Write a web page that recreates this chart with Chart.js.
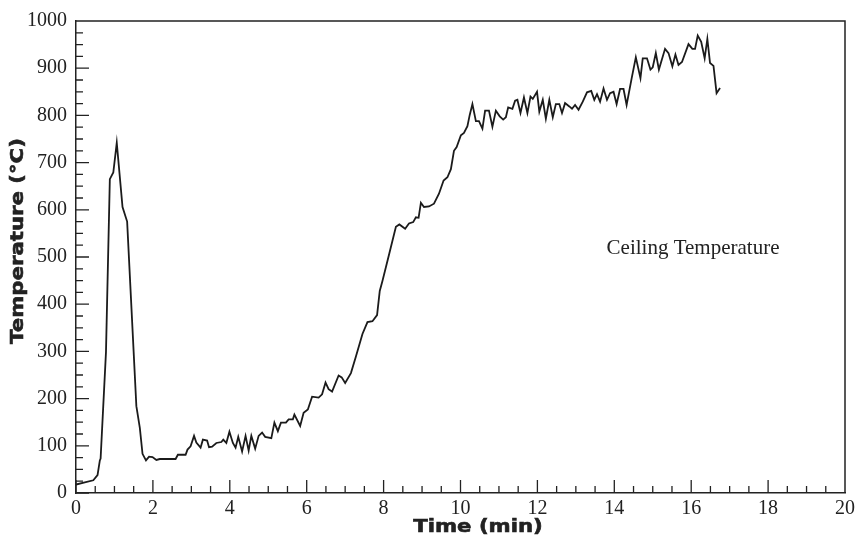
<!DOCTYPE html>
<html lang="en">
<head>
    <meta charset="UTF-8">
    <title>Ceiling Temperature</title>
    <script src="https://cdn.jsdelivr.net/npm/chart.js"></script>
    <style>
        html, body { margin: 0; padding: 0; background: #fff; }
        #wrap { width: 859px; height: 551px; }
    </style>
</head>
<body>
    <div id="wrap"><canvas id="chart" width="859" height="551"></canvas></div>
    <script>
        // time in minutes, temperature in deg C
        const times = [
            0.00, 0.45, 0.56, 0.62, 0.64, 0.78, 0.88, 0.97, 1.06, 1.21, 1.33, 1.57, 1.66, 1.73, 1.82, 1.90, 1.99,
            2.09, 2.18, 2.59, 2.65, 2.85, 2.90, 2.98, 3.07, 3.13, 3.24, 3.30, 3.41, 3.46, 3.54, 3.65, 3.78, 3.83,
            3.91, 3.99, 4.08, 4.15, 4.22, 4.32, 4.41, 4.49, 4.56, 4.66, 4.75, 4.84, 4.92, 5.08, 5.16, 5.25, 5.33,
            5.46, 5.53, 5.64, 5.68, 5.83, 5.92, 6.03, 6.14, 6.31, 6.40, 6.49, 6.57, 6.66, 6.83, 6.91, 7.00, 7.15,
            7.28, 7.45, 7.58, 7.71, 7.83, 7.90, 7.97, 8.15, 8.32, 8.41, 8.56, 8.66, 8.77, 8.84, 8.91, 8.97, 9.05,
            9.18, 9.31, 9.44, 9.56, 9.66, 9.75, 9.83, 9.90, 10.01, 10.09, 10.18, 10.24, 10.31, 10.40, 10.48, 10.57,
            10.64, 10.74, 10.83, 10.92, 11.02, 11.11, 11.18, 11.24, 11.35, 11.42, 11.48, 11.56, 11.65, 11.74, 11.82,
            11.88, 11.99, 12.05, 12.14, 12.22, 12.31, 12.40, 12.48, 12.57, 12.64, 12.72, 12.83, 12.90, 12.98, 13.07,
            13.18, 13.29, 13.40, 13.48, 13.55, 13.63, 13.72, 13.81, 13.89, 13.98, 14.06, 14.15, 14.24, 14.32, 14.45,
            14.56, 14.68, 14.74, 14.85, 14.94, 15.00, 15.08, 15.16, 15.32, 15.41, 15.51, 15.59, 15.67, 15.76, 15.93,
            16.03, 16.10, 16.17, 16.26, 16.35, 16.42, 16.49, 16.58, 16.66, 16.75
        ];
        const temps = [
            18, 27, 38, 69, 73, 299, 665, 679, 742, 606, 575, 184, 138, 83, 69, 77, 76,
            70, 72, 72, 81, 81, 92, 99, 121, 107, 96, 113, 111, 97, 98, 106, 108, 113,
            106, 130, 106, 96, 119, 88, 121, 90, 121, 94, 121, 128, 119, 116, 149, 131, 149,
            149, 156, 156, 166, 142, 170, 177, 204, 202, 209, 234, 220, 215, 249, 245, 233, 254,
            289, 337, 362, 364, 377, 428, 449, 508, 564, 569, 560, 571, 574, 584, 583, 615, 606,
            607, 613, 634, 662, 669, 686, 725, 733, 758, 763, 777, 801, 824, 788, 788, 772,
            810, 810, 776, 810, 798, 791, 796, 817, 814, 831, 833, 805, 838, 805, 840,
            835, 850, 808, 833, 793, 833, 796, 824, 824, 805, 826, 819, 814, 822, 812,
            829, 849, 852, 833, 845, 829, 857, 833, 847, 850, 824, 856, 856, 822, 878,
            923, 879, 921, 921, 897, 902, 932, 897, 941, 932, 904, 929, 907, 913, 951,
            941, 941, 969, 956, 921, 962, 911, 905, 847, 858
        ];

        const xTitle = 'Time (min)';
        const yTitle = 'Temperature (\u00B0C)';
        const seriesLabel = 'Ceiling Temperature';
        const labelAt = [13.8, 518]; // where the series name sits (data units)

        const ink = '#222';
        const serif = '"Liberation Serif", "Times New Roman", serif';
        const heavy = 'bold 18px "DejaVu Sans", sans-serif';

        // heavy titles, stretched a bit wider like the original typeface
        function wideText(ctx, text, x, y, angle) {
            ctx.save();
            ctx.translate(x, y);
            ctx.rotate(angle);
            ctx.scale(1.18, 1);
            ctx.font = heavy;
            ctx.fillStyle = ink;
            ctx.textAlign = 'center';
            ctx.textBaseline = 'middle';
            ctx.fillText(text, 0, 0);
            ctx.lineWidth = 0.6;
            ctx.strokeStyle = ink;
            ctx.strokeText(text, 0, 0);
            ctx.restore();
        }

        // inward major/minor ticks, top and right frame, titles and the label
        const decor = {
            id: 'decor',
            beforeDatasetsDraw(chart) {
                const ctx = chart.ctx;
                const a = chart.chartArea;
                const xs = chart.scales.x, ys = chart.scales.y;
                ctx.save();
                ctx.strokeStyle = ink;
                ctx.lineWidth = 1.5;
                ctx.beginPath();
                ctx.moveTo(a.left, a.top); ctx.lineTo(a.right, a.top); ctx.lineTo(a.right, a.bottom);
                ctx.stroke();
                ctx.lineWidth = 1.3;
                ctx.beginPath();
                for (let v = 0; v < 20; v += 0.5) {
                    const px = xs.getPixelForValue(v);
                    const len = (v % 2 === 0) ? 13 : 7;
                    ctx.moveTo(px, a.bottom); ctx.lineTo(px, a.bottom - len);
                }
                for (let v = 0; v < 1000; v += 25) {
                    const py = ys.getPixelForValue(v);
                    const len = (v % 100 === 0) ? 13 : 7;
                    ctx.moveTo(a.left, py); ctx.lineTo(a.left + len, py);
                }
                ctx.stroke();
                ctx.restore();
            },
            afterDraw(chart) {
                const ctx = chart.ctx;
                const xs = chart.scales.x, ys = chart.scales.y;
                wideText(ctx, xTitle, 478, 527, 0);
                wideText(ctx, yTitle, 18, 241, -Math.PI / 2);

                ctx.save();
                ctx.fillStyle = ink;
                ctx.font = '21px ' + serif;
                ctx.textAlign = 'left';
                ctx.textBaseline = 'middle';
                ctx.fillText(seriesLabel, xs.getPixelForValue(labelAt[0]), ys.getPixelForValue(labelAt[1]));
                ctx.restore();
            }
        };

        new Chart(document.getElementById('chart').getContext('2d'), {
            type: 'line',
            data: {
                datasets: [{
                    label: seriesLabel,
                    data: times.map((t, i) => ({ x: t, y: temps[i] })),
                    borderColor: '#1b1b1b',
                    borderWidth: 1.8,
                    pointRadius: 0,
                    tension: 0,
                    fill: false
                }]
            },
            options: {
                responsive: false,
                animation: false,
                layout: { padding: { top: 15, right: 12, left: 0, bottom: 0 } },
                plugins: { legend: { display: false }, tooltip: { enabled: false } },
                scales: {
                    x: {
                        type: 'linear', min: 0, max: 20,
                        grid: { display: false, drawTicks: false },
                        border: { display: true, color: ink, width: 1.5 },
                        ticks: { stepSize: 2, padding: 4, color: ink, maxRotation: 0, font: { family: serif, size: 20 } },
                        afterFit(s) { s.height = 58; }
                    },
                    y: {
                        min: 0, max: 1000,
                        grid: { display: false, drawTicks: false },
                        border: { display: true, color: ink, width: 1.5 },
                        ticks: {
                            stepSize: 100, padding: 9, color: ink, font: { family: serif, size: 20 },
                            callback: v => String(v)
                        },
                        afterFit(s) { s.width = 76; }
                    }
                }
            },
            plugins: [decor]
        });
    </script>
</body>
</html>
